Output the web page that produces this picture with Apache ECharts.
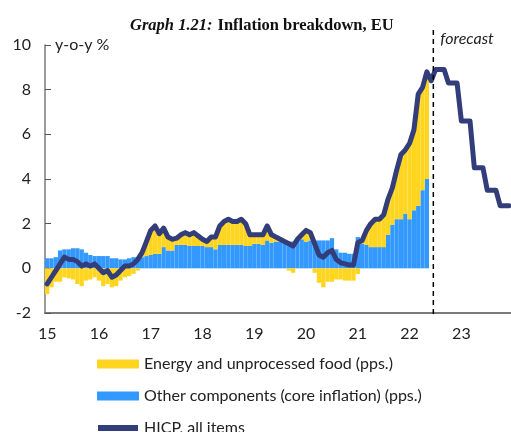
<!DOCTYPE html>
<html>
<head>
<meta charset="utf-8">
<script src="https://cdn.jsdelivr.net/npm/echarts@6/dist/echarts.min.js"></script>
<style>
  html, body { margin: 0; padding: 0; background: #fff; }
  #chart { width: 511px; height: 432px; }
</style>
</head>
<body>
<div id="chart"></div>
<script>
// months Jan 2015 .. Dec 2023
const years = [2015, 2016, 2017, 2018, 2019, 2020, 2021, 2022, 2023];
const months = [];
years.forEach(function (y) {
  for (let m = 1; m <= 12; m++) months.push(y + '-' + (m < 10 ? '0' + m : m));
});

// Other components (core inflation), pps., Jan 2015 - May 2022
const coreData = [
  0.45, 0.45, 0.5, 0.8, 0.85, 0.85, 0.9, 0.9, 0.85, 0.7, 0.6, 0.55,
  0.55, 0.55, 0.55, 0.45, 0.45, 0.4, 0.4, 0.45, 0.5, 0.5, 0.5, 0.55,
  0.6, 0.65, 0.65, 0.95, 0.8, 0.8, 1.05, 1.05, 1.05, 1.0, 1.0, 1.0,
  1.0, 0.95, 0.95, 0.85, 1.05, 1.05, 1.05, 1.05, 1.05, 1.05, 1.0, 1.0,
  1.1, 1.1, 1.05, 1.25, 1.15, 1.2, 1.2, 1.2, 1.2, 1.2, 1.3, 1.3,
  1.2, 1.25, 1.25, 1.25, 1.25, 1.25, 1.35, 0.85, 0.7, 0.7, 0.65, 0.65,
  1.4, 1.1, 1.05, 0.95, 0.95, 0.95, 0.95, 1.5, 1.95, 2.2, 2.2, 2.45,
  2.2, 2.6, 2.8, 3.5, 4.0
];

// Energy and unprocessed food, pps., Jan 2015 - May 2022
const energyData = [
  -1.15, -0.85, -0.6, -0.6, -0.4, -0.45, -0.5, -0.7, -0.8, -0.55, -0.5, -0.4,
  -0.55, -0.8, -0.7, -0.85, -0.8, -0.55, -0.4, -0.35, -0.25, -0.1, 0.2, 0.65,
  1.1, 1.25, 0.9, 0.85, 0.6, 0.5, 0.3, 0.45, 0.55, 0.5, 0.6, 0.45,
  0.3, 0.25, 0.45, 0.55, 0.85, 1.05, 1.15, 1.05, 1.05, 1.15, 1.0, 0.5,
  0.4, 0.4, 0.45, 0.65, 0.35, 0.2, 0.1, 0.0, -0.1, -0.2, 0.0, 0.2,
  0.5, 0.35, -0.2, -0.65, -0.85, -0.6, -0.6, -0.5, -0.5, -0.55, -0.55, -0.55,
  -0.25, 0.15, 0.65, 1.05, 1.25, 1.25, 1.45, 1.6, 1.65, 2.2, 2.9, 2.85,
  3.4, 3.6, 5.0, 4.6, 4.8
];

// HICP, all items, y-o-y %, Jan 2015 - Dec 2023 (forecast from Jun 2022)
const hicpData = [
  -0.7, -0.4, -0.1, 0.2, 0.5, 0.4, 0.4, 0.3, 0.1, 0.2, 0.1, 0.2,
  0.0, -0.2, -0.1, -0.4, -0.3, -0.1, 0.1, 0.1, 0.2, 0.4, 0.7, 1.2,
  1.7, 1.9, 1.55, 1.8, 1.4, 1.3, 1.35, 1.5, 1.6, 1.5, 1.6, 1.45,
  1.3, 1.2, 1.4, 1.4, 1.9, 2.1, 2.2, 2.1, 2.1, 2.2, 2.0, 1.5,
  1.5, 1.5, 1.5, 1.9, 1.5, 1.4, 1.3, 1.2, 1.1, 1.0, 1.3, 1.5,
  1.7, 1.6, 1.1, 0.6, 0.5, 0.7, 0.8, 0.4, 0.25, 0.2, 0.15, 0.15,
  1.15, 1.25, 1.7, 2.0, 2.2, 2.2, 2.4, 3.1, 3.6, 4.4, 5.1, 5.3,
  5.6, 6.2, 7.8, 8.1, 8.8, 8.4, 8.9, 8.9, 8.9, 8.3, 8.3, 8.3,
  6.6, 6.6, 6.6, 4.5, 4.5, 4.5, 3.5, 3.5, 3.5, 2.8, 2.8, 2.8
];

const forecastStart = '2022-06';

const font = 'Lato';
// thick line for the legend, kept inside the same 42x9 box as the bar icons
const lineIcon = 'path://M0,0 M42,9 M1,1.5 L41,1.5 L41,7.5 L1,7.5 Z';
const chart = echarts.init(document.getElementById('chart'));

chart.setOption({
  animation: false,
  title: {
    text: '{i|Graph 1.21:} {b|Inflation breakdown, EU}',
    left: 125,
    top: 12,
    textStyle: {
      rich: {
        i: { fontFamily: 'Liberation Serif', fontStyle: 'italic', fontSize: 16.5, color: '#111' },
        b: { fontFamily: 'Liberation Serif', fontWeight: 'bold', fontSize: 16.5, color: '#111' }
      }
    }
  },
  legend: {
    orient: 'vertical',
    left: 97,
    top: 356,
    height: 200,
    padding: 0,
    itemWidth: 42,
    itemHeight: 9,
    itemGap: 16,
    textStyle: { fontFamily: font, fontSize: 16, color: '#222' },
    data: [
      { name: 'Energy and unprocessed food (pps.)', icon: 'rect' },
      { name: 'Other components (core inflation) (pps.)', icon: 'rect' },
      { name: 'HICP, all items', icon: lineIcon }
    ]
  },
  grid: { left: 45, right: 0, top: 45, bottom: 119 },
  xAxis: [
    {
      type: 'category',
      data: months,
      position: 'bottom',
      axisLine: { show: false },
      axisTick: { show: false },
      axisLabel: {
        interval: function (i) { return i % 12 === 0; },
        formatter: function (v) { return v.slice(2, 4); },
        fontFamily: font,
        fontSize: 16,
        color: '#222',
        margin: 13
      }
    },
    {
      type: 'category',
      data: months,
      position: 'bottom',
      axisLine: { onZero: true, lineStyle: { color: '#7a7a7a', width: 2 } },
      axisTick: {
        inside: true,
        length: 4,
        interval: function (i) { return i % 12 === 0 && i > 0; },
        lineStyle: { color: '#111', width: 1 }
      },
      axisLabel: { show: false }
    }
  ],
  yAxis: {
    type: 'value',
    min: -2,
    max: 10,
    interval: 2,
    axisLine: { show: true, lineStyle: { color: '#7a7a7a', width: 1.5 } },
    axisTick: { show: true, inside: true, length: 6, lineStyle: { color: '#555' } },
    splitLine: { show: false },
    axisLabel: { fontFamily: font, fontSize: 16, color: '#222', margin: 14 }
  },
  series: [
    {
      name: 'Other components (core inflation) (pps.)',
      type: 'bar',
      stack: 'total',
      barCategoryGap: '0%',
      itemStyle: { color: '#3399FF' },
      data: coreData
    },
    {
      name: 'Energy and unprocessed food (pps.)',
      type: 'bar',
      stack: 'total',
      barCategoryGap: '0%',
      itemStyle: { color: '#FFD520' },
      data: energyData
    },
    {
      name: 'HICP, all items',
      type: 'line',
      symbol: 'none',
      z: 5,
      lineStyle: { color: '#333D79', width: 5, cap: 'round', join: 'round' },
      itemStyle: { color: '#333D79' },
      data: hicpData
    }
  ]
});

// forecast divider at the boundary after the first forecast month
const i0 = months.indexOf(forecastStart);
const xa = chart.convertToPixel({ xAxisIndex: 0 }, months[i0]);
const xb = chart.convertToPixel({ xAxisIndex: 0 }, months[i0 + 1]);
const xLine = (xa + xb) / 2;

chart.setOption({
  graphic: [
    {
      type: 'line',
      shape: { x1: xLine, y1: 30, x2: xLine, y2: 317 },
      style: { stroke: '#000', lineWidth: 1.5, lineDash: [5, 4] },
      z: 10
    },
    {
      type: 'text',
      left: xLine + 7,
      top: 31,
      style: { text: 'forecast', font: 'italic 16px ' + font, fill: '#222' }
    },
    {
      type: 'text',
      left: 55,
      top: 37,
      style: { text: 'y-o-y %', font: '16px ' + font, fill: '#222' }
    }
  ]
});
</script>
</body>
</html>
